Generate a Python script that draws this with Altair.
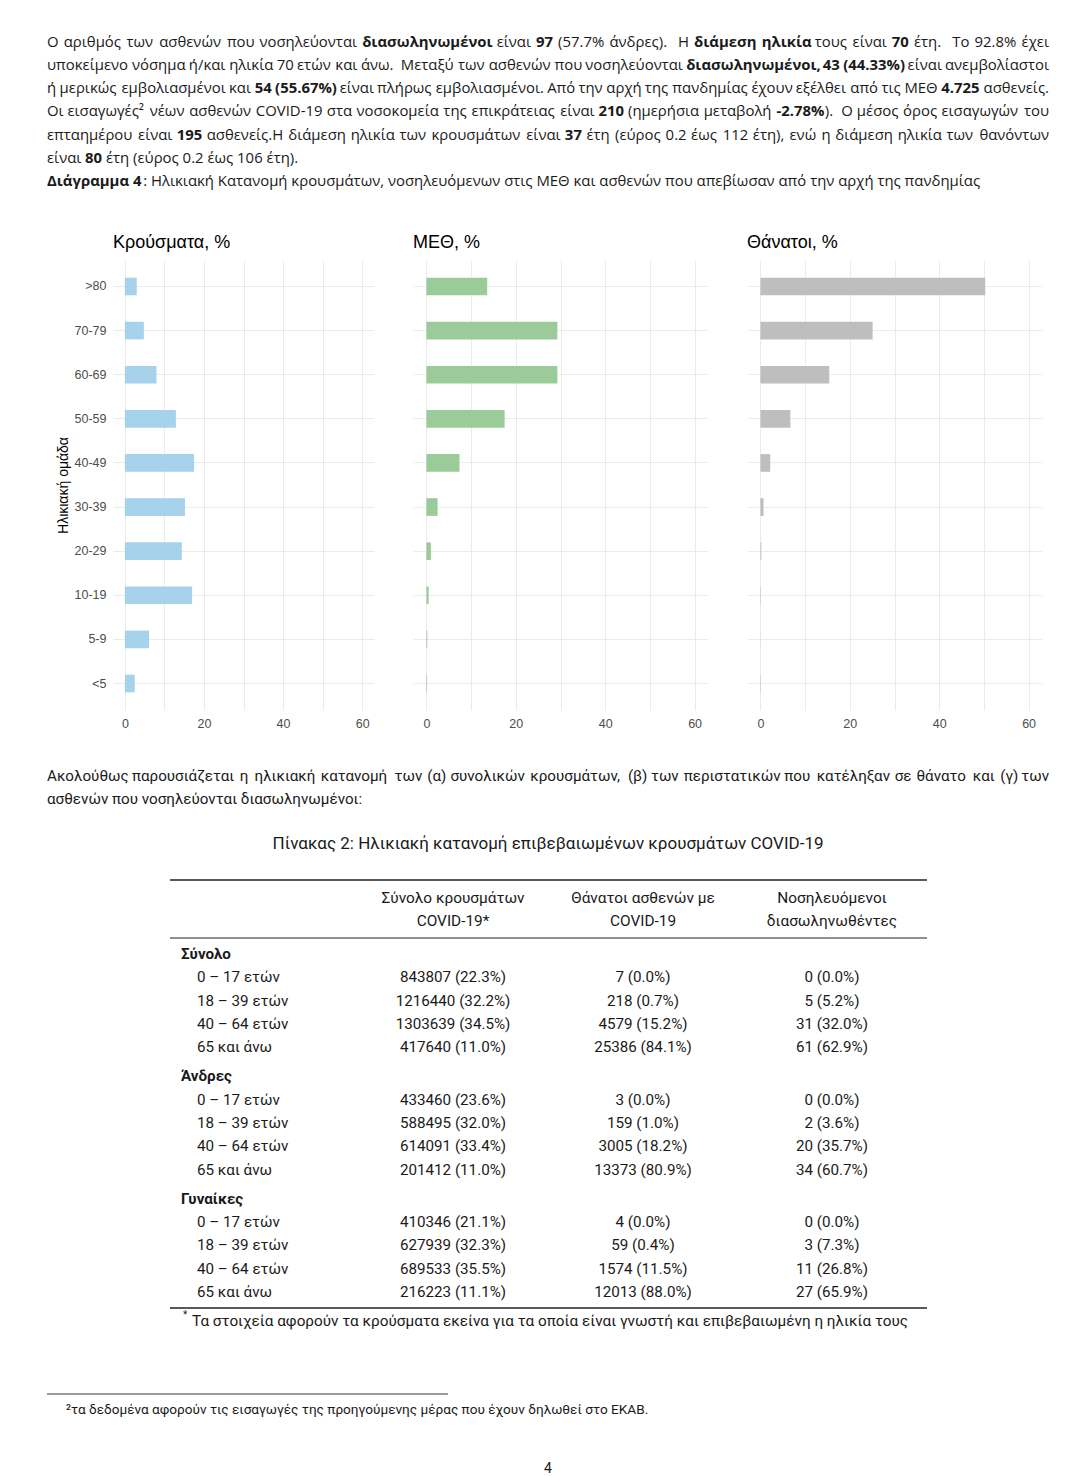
import altair as alt
import pandas as pd

# ------------------------------------------------------------------ data
age_groups = [">80", "70-79", "60-69", "50-59", "40-49", "30-39", "20-29", "10-19", "5-9", "<5"]
cases_pct = [3.0, 4.8, 8.0, 12.9, 17.5, 15.2, 14.4, 17.0, 6.1, 2.5]
icu_pct = [13.6, 29.3, 29.3, 17.5, 7.4, 2.5, 1.0, 0.5, 0.2, 0.15]
deaths_pct = [50.3, 25.1, 15.4, 6.7, 2.2, 0.7, 0.2, 0.1, 0.03, 0.1]
x_ticks = [0, 10, 20, 30, 40, 50, 60]
panel_titles = ["Κρούσματα, %", "ΜΕΘ, %", "Θάνατοι, %"]
panel_colors = ["#A6D2EC", "#9BCB98", "#BEBEBE"]
y_title = "Ηλικιακή ομάδα"

tbl_groups = ["Σύνολο", "Άνδρες", "Γυναίκες"]
tbl_ages = ["0 – 17 ετών", "18 – 39 ετών", "40 – 64 ετών", "65 και άνω"]
tbl_cases = [[843807, 1216440, 1303639, 417640],
             [433460, 588495, 614091, 201412],
             [410346, 627939, 689533, 216223]]
tbl_cases_pct = [[22.3, 32.2, 34.5, 11.0], [23.6, 32.0, 33.4, 11.0], [21.1, 32.3, 35.5, 11.1]]
tbl_deaths = [[7, 218, 4579, 25386], [3, 159, 3005, 13373], [4, 59, 1574, 12013]]
tbl_deaths_pct = [[0.0, 0.7, 15.2, 84.1], [0.0, 1.0, 18.2, 80.9], [0.0, 0.4, 11.5, 88.0]]
tbl_icu = [[0, 5, 31, 61], [0, 2, 20, 34], [0, 3, 11, 27]]
tbl_icu_pct = [[0.0, 5.2, 32.0, 62.9], [0.0, 3.6, 35.7, 60.7], [0.0, 7.3, 26.8, 65.9]]
tbl_headers = [["Σύνολο κρουσμάτων", "COVID-19*"],
               ["Θάνατοι ασθενών με", "COVID-19"],
               ["Νοσηλευόμενοι", "διασωληνωθέντες"]]

# paragraph text as (text, bold) runs, one list per printed line, plus "justified" flags
para1 = [
    [("Ο αριθμός των ασθενών που νοσηλεύονται ", False), ("διασωληνωμένοι", True),
     (" είναι ", False), ("97", True), (" (57.7% άνδρες).  Η ", False),
     ("διάμεση ηλικία", True), (" τους είναι ", False), ("70", True),
     (" έτη.  Το 92.8% έχει", False)],
    [("υποκείμενο νόσημα ή/και ηλικία 70 ετών και άνω.  Μεταξύ των ασθενών που νοσηλεύονται ", False),
     ("διασωληνωμένοι, 43 (44.33%)", True), (" είναι ανεμβολίαστοι", False)],
    [("ή μερικώς εμβολιασμένοι και ", False), ("54 (55.67%)", True),
     (" είναι πλήρως εμβολιασμένοι. Από την αρχή της πανδημίας έχουν εξέλθει από τις ΜΕΘ ", False),
     ("4.725", True), (" ασθενείς.", False)],
    [("Οι εισαγωγές² νέων ασθενών COVID-19 στα νοσοκομεία της επικράτειας είναι ", False),
     ("210", True), (" (ημερήσια μεταβολή ", False), ("-2.78%", True),
     (").  Ο μέσος όρος εισαγωγών του", False)],
    [("επταημέρου είναι ", False), ("195", True),
     (" ασθενείς.Η διάμεση ηλικία των κρουσμάτων είναι ", False), ("37", True),
     (" έτη (εύρος 0.2 έως 112 έτη), ενώ η διάμεση ηλικία των θανόντων", False)],
    [("είναι ", False), ("80", True), (" έτη (εύρος 0.2 έως 106 έτη).", False)],
    [("Διάγραμμα 4", True),
     (": Ηλικιακή Κατανομή κρουσμάτων, νοσηλευόμενων στις ΜΕΘ και ασθενών που απεβίωσαν από την αρχή της πανδημίας", False)],
]
para1_justified = [True, True, True, True, True, False, False]
para2 = [
    [("Ακολούθως παρουσιάζεται η ηλικιακή κατανομή των (α) συνολικών κρουσμάτων, (β) των περιστατικών που κατέληξαν σε θάνατο και (γ) των", False)],
    [("ασθενών που νοσηλεύονται διασωληνωμένοι:", False)],
]
para2_justified = [True, False]
caption = "Πίνακας 2: Ηλικιακή κατανομή επιβεβαιωμένων κρουσμάτων COVID-19"
foot_star = "Τα στοιχεία αφορούν τα κρούσματα εκείνα για τα οποία είναι γνωστή και επιβεβαιωμένη η ηλικία τους"
foot_two = "²τα δεδομένα αφορούν τις εισαγωγές της προηγούμενης μέρας που έχουν δηλωθεί στο ΕΚΑΒ."
page_no = "4"

# ------------------------------------------------------------------ styles / layout
OX, OY = 8, 8                  # page margin
YB = 729                       # page y where the lower block starts
INK = "#1a1a1a"
BODY = "Open Sans"
COND = "Roboto"
PLOT_FONT = "Liberation Sans"
GRID = "#EBEBEB"
AXIS_INK = "#4D4D4D"
W_TEXT = 1050
TEXT_X0, TEXT_X1 = 47, 1049

# approximate advance widths (em) used to lay words out on justified lines
W_EM = {}


def _set(chars, w):
    for ch in chars:
        W_EM[ch] = w


_set("a", .556); _set("bdpqg", .61); _set("c", .476); _set("e", .561); _set("f", .339)
_set("hnu", .614); _set("ijl", .253); _set("k", .525); _set("m", .93); _set("o", .604)
_set("r", .408); _set("sz", .477); _set("t", .353); _set("vy", .501); _set("w", .778); _set("x", .524)
_set("ABP", .63); _set("C", .631); _set("DH", .73); _set("EFL", .54); _set("GOQ", .78); _set("I", .314)
_set("K", .607); _set("M", .903); _set("N", .76); _set("RSTVXYZ", .57); _set("U", .74); _set("W", .9)
_set("0123456789", .572); _set(".:;", .266); _set(",", .25); _set("()", .294); _set("%", .83)
_set("-", .322); _set("/", .367); _set("²", .35); _set("*", .55); _set("–", .5); _set(" ", .26)
_set("αά", .62); _set("β", .61); _set("γ", .52); _set("δ", .6); _set("εέ", .5); _set("ζ", .48)
_set("ηή", .62); _set("θ", .6); _set("ιίϊΐ", .32); _set("κ", .56); _set("λ", .53); _set("μ", .63)
_set("ν", .53); _set("ξ", .49); _set("οό", .6); _set("π", .64); _set("ρ", .6); _set("σ", .6)
_set("ς", .5); _set("τ", .5); _set("υύϋ", .6); _set("φψ", .79); _set("χ", .52); _set("ωώ", .82)
_set("ΑΒΡ", .63); _set("Ά", .68); _set("Γ", .52); _set("Δ", .63); _set("ΕΖΞΣΥ", .56); _set("Η", .734)
_set("ΘΟ", .78); _set("Ι", .314); _set("Κ", .607); _set("Λ", .6); _set("Μ", .903); _set("Ν", .76)
_set("Π", .73); _set("Τ", .552); _set("ΦΨ", .8); _set("Χ", .57); _set("Ω", .77)


def text_w(s, bold, fs, factor):
    w = 0.0
    for ch in s:
        cw = W_EM.get(ch, .58)
        if bold and not ch.isdigit():
            cw *= 1.08
        w += cw
    return w * fs * factor


def layout(lines, flags, fs, factor, y_of):
    out = []
    for li, (runs, just) in enumerate(zip(lines, flags)):
        toks = []
        if just:
            sp = 0
            for text, bold in runs:
                for j, p in enumerate(text.split(" ")):
                    if j > 0:
                        sp += 1
                    if p:
                        toks.append([p, bold, sp if toks else 0])
                        sp = 0
        else:
            trail = 0
            for text, bold in runs:
                lead = len(text) - len(text.lstrip(" "))
                core = text.strip(" ")
                toks.append([core, bold, (lead + trail) if toks else 0])
                trail = len(text) - len(text.rstrip(" "))
        widths = [text_w(t, b, fs, factor) for t, b, _ in toks]
        nsp = sum(t[2] for t in toks)
        spw = W_EM[" "] * fs * factor
        gap = (TEXT_X1 - TEXT_X0 - sum(widths)) / nsp if (just and nsp) else spw
        x = TEXT_X0
        for k, (t, b, s) in enumerate(toks):
            x += s * gap
            last = just and k == len(toks) - 1
            kind = ("r" if last else "") + ("b" if b else "n")
            out.append({"y": y_of(li), "text": t, "kind": kind,
                        "px": (TEXT_X1 if last else x) - OX})
            x += widths[k]
    return pd.DataFrame(out)


def text_layers(df, y_enc, font, size):
    base = alt.Chart(df).encode(x=alt.X("px:Q", scale=None), y=y_enc, text="text:N")
    out = []
    for kind, align, weight in [("n", "left", "normal"), ("b", "left", "bold"),
                                ("rn", "right", "normal"), ("rb", "right", "bold")]:
        out.append(base.transform_filter(alt.datum.kind == kind).mark_text(
            align=align, baseline="middle", font=font, fontSize=size,
            fontWeight=weight, color=INK))
    return out


# ---------------- top paragraph
TOP_FS = 14.9
top_df = layout(para1, para1_justified, TOP_FS, 1.0, lambda i: i)
top_y = alt.Y("y:Q", scale=alt.Scale(domain=[0, 6], range=[42.5 - OY, 182.3 - OY]), axis=None)
top = alt.layer(*text_layers(top_df, top_y, BODY, TOP_FS)).properties(width=W_TEXT, height=226)


# ---------------- bar panels
def panel(values, title, color, width, first):
    df = pd.DataFrame({"age": age_groups, "pct": values})
    yargs = dict(ticks=False, tickSize=0, domain=False, grid=True, gridColor=GRID,
                 gridWidth=1, bandPosition=0.5, labels=first)
    if first:
        yargs.update(title=y_title, labelFont=PLOT_FONT, labelFontSize=12.5,
                     labelColor=AXIS_INK, labelPadding=7, titleFont=PLOT_FONT,
                     titleFontSize=14, titleFontWeight="normal", titleColor="#000000",
                     titlePadding=4)
    else:
        yargs.update(title=None)
    xaxis = alt.Axis(values=x_ticks, labelExpr="datum.value % 20 === 0 ? datum.label : ''",
                     title=None, ticks=False, tickSize=0, domain=False, grid=True,
                     gridColor=GRID, gridWidth=1, labelFont=PLOT_FONT, labelFontSize=12.5,
                     labelColor=AXIS_INK, labelPadding=7, labelOverlap=False, labelFlush=False)
    return alt.Chart(df).mark_bar(color=color).encode(
        x=alt.X("pct:Q", scale=alt.Scale(domain=[-3, 63], nice=False, zero=False), axis=xaxis),
        x2=alt.datum(0),
        y=alt.Y("age:N", sort=age_groups,
                scale=alt.Scale(paddingInner=0.6, paddingOuter=0.4), axis=alt.Axis(**yargs)),
    ).properties(width=width, height=450,
                 title=alt.TitleParams(title, anchor="start", frame="group", fontSize=18,
                                       font=PLOT_FONT, fontWeight="normal", color="#000000",
                                       baseline="alphabetic", offset=-6))


spacer = alt.Chart(pd.DataFrame({"t": [""]})).mark_text().encode(
    text="t:N", x=alt.value(4), y=alt.value(200)).properties(width=9, height=450)

row = alt.hconcat(
    spacer,
    panel(cases_pct, panel_titles[0], panel_colors[0], 261, True),
    panel(icu_pct, panel_titles[1], panel_colors[1], 295, False),
    panel(deaths_pct, panel_titles[2], panel_colors[2], 295, False),
    spacing=39,
)


# ---------------- lower block
def py(v):
    return v - YB


px_y = alt.Y("y:Q", scale=None)
P2_FS = 15.2
p2_df = layout(para2, para2_justified, P2_FS, 0.958, lambda i: py(775 + 23.3 * i))
p2_layers = text_layers(p2_df, px_y, COND, P2_FS)

cap_df = pd.DataFrame([{"px": 548 - OX, "y": py(843), "text": caption}])
cap_layer = alt.Chart(cap_df).mark_text(align="center", baseline="middle", font=COND,
                                        fontSize=17, color=INK).encode(
    x=alt.X("px:Q", scale=None), y=px_y, text="text:N")

col_x = [453, 643, 832]
hdr_rows = []
for c, pair in enumerate(tbl_headers):
    for j, t in enumerate(pair):
        hdr_rows.append({"px": col_x[c] - OX, "y": py(897 + 23 * j), "text": t})
hdr_layer = alt.Chart(pd.DataFrame(hdr_rows)).mark_text(
    align="center", baseline="middle", font=COND, fontSize=15.4, color=INK).encode(
    x=alt.X("px:Q", scale=None), y=px_y, text="text:N")

cell_rows, grp_rows, age_rows = [], [], []
for g, gname in enumerate(tbl_groups):
    grp_rows.append({"slot": g * 5.25, "text": gname, "px": 181 - OX})
    for k, age in enumerate(tbl_ages):
        slot = g * 5.25 + 1 + k
        age_rows.append({"slot": slot, "text": age, "px": 197 - OX})
        vals = [f"{tbl_cases[g][k]} ({tbl_cases_pct[g][k]:.1f}%)",
                f"{tbl_deaths[g][k]} ({tbl_deaths_pct[g][k]:.1f}%)",
                f"{tbl_icu[g][k]} ({tbl_icu_pct[g][k]:.1f}%)"]
        for c, v in enumerate(vals):
            cell_rows.append({"slot": slot, "text": v, "px": col_x[c] - OX})

TBL_FS = 15.2
slot_y = alt.Y("slot:Q", scale=alt.Scale(domain=[0, 14.5], range=[py(953), py(1290.9)]), axis=None)
grp_layer = alt.Chart(pd.DataFrame(grp_rows)).mark_text(
    align="left", baseline="middle", font=COND, fontSize=TBL_FS, fontWeight="bold", color=INK).encode(
    x=alt.X("px:Q", scale=None), y=slot_y, text="text:N")
age_layer = alt.Chart(pd.DataFrame(age_rows)).mark_text(
    align="left", baseline="middle", font=COND, fontSize=TBL_FS, color=INK).encode(
    x=alt.X("px:Q", scale=None), y=slot_y, text="text:N")
cell_layer = alt.Chart(pd.DataFrame(cell_rows)).mark_text(
    align="center", baseline="middle", font=COND, fontSize=TBL_FS, color=INK).encode(
    x=alt.X("px:Q", scale=None), y=slot_y, text="text:N")

rule_df = pd.DataFrame([
    {"px": 170 - OX, "px2": 927 - OX, "y": py(879), "w": 1.6},
    {"px": 170 - OX, "px2": 927 - OX, "y": py(937), "w": 1.0},
    {"px": 170 - OX, "px2": 927 - OX, "y": py(1307), "w": 1.6},
    {"px": 47 - OX, "px2": 448 - OX, "y": py(1393), "w": 0.9},
])
rule_layer = alt.Chart(rule_df).mark_rule(color="#222222").encode(
    x=alt.X("px:Q", scale=None), x2="px2:Q", y=px_y,
    strokeWidth=alt.StrokeWidth("w:Q", scale=None))

foot_df = pd.DataFrame([
    {"px": 183 - OX, "y": py(1314), "text": "*", "fs": 10},
    {"px": 192 - OX, "y": py(1320), "text": foot_star, "fs": 15.3},
    {"px": 66 - OX, "y": py(1409), "text": foot_two, "fs": 13.6},
    {"px": 544 - OX, "y": py(1468), "text": page_no, "fs": 14},
])
foot_layer = alt.Chart(foot_df).mark_text(
    align="left", baseline="middle", font=COND, color=INK).encode(
    x=alt.X("px:Q", scale=None), y=px_y, text="text:N",
    size=alt.Size("fs:Q", scale=None))

bottom = alt.layer(
    *p2_layers, cap_layer, hdr_layer, grp_layer, age_layer, cell_layer, rule_layer, foot_layer
).resolve_scale(x="independent", y="independent").properties(width=W_TEXT, height=1475 - YB)

chart = alt.vconcat(top, row, bottom, spacing=0).properties(
    padding=0, background="white").configure_view(stroke=None)

chart.save("out.html", embed_options={"renderer": "svg", "actions": False})
